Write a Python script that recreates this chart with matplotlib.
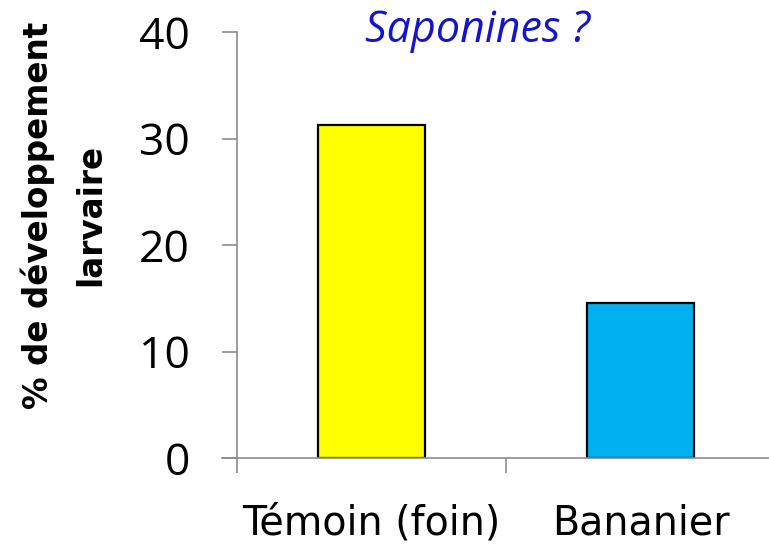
import matplotlib
matplotlib.use('Agg')
import matplotlib.pyplot as plt

# data
categories = ['Témoin (foin)', 'Bananier']
values = [31.3, 14.6]
colors = ['#ffff00', '#00b0f0']
yticks = [0, 10, 20, 30, 40]

fig = plt.figure(figsize=(7.69, 5.45), dpi=100)
ax = fig.add_axes([222 / 769, 87 / 545, 553 / 769, 426 / 545])

x = list(range(len(categories)))
ax.bar(x, values, width=0.4, color=colors, edgecolor='black', linewidth=1.6)

ax.set_xlim(-0.5 - 15 / 269, len(categories) - 0.5)
ax.set_ylim(0, 40)

grey = '#8c8c8c'
for s in ['top', 'right']:
    ax.spines[s].set_visible(False)
ax.spines['left'].set_position(('data', -0.5))
ax.spines['left'].set_color(grey)
ax.spines['bottom'].set_color(grey)
ax.spines['left'].set_linewidth(1.2)
ax.spines['bottom'].set_linewidth(1.2)

ax.set_yticks(yticks)
ax.set_yticklabels([str(v) for v in yticks], fontfamily='Open Sans', fontsize=32)
ax.tick_params(axis='y', direction='out', length=11, width=1.2, color=grey, pad=23)

ax.set_xticks(x)
ax.set_xticklabels(categories, fontfamily='DejaVu Sans', fontsize=28.5)
ax.set_xticks([i - 0.5 for i in range(len(categories) + 1)], minor=True)
ax.tick_params(axis='x', which='major', length=0, pad=33)
ax.tick_params(axis='x', which='minor', direction='out', length=11, width=1.2, color=grey)

fig.text(477 / 769, 1 - 42 / 545, 'Saponines ?', ha='center', va='baseline',
         fontfamily='Open Sans', fontstyle='italic', fontsize=31, color='#1414cc')

fig.text(64 / 769, 1 - 215 / 545, '% de développement\nlarvaire', rotation=90,
         ha='center', va='center', multialignment='center', linespacing=1.75,
         fontfamily='DejaVu Sans', fontweight='bold', fontsize=23.5)

fig.savefig('out.png', dpi=100)
